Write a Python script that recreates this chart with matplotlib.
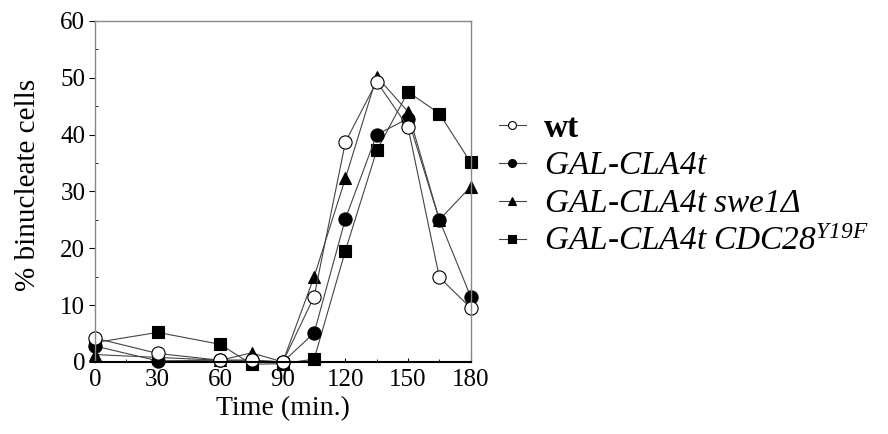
import matplotlib.pyplot as plt
from matplotlib.ticker import MultipleLocator

plt.rcParams['font.family'] = ['Liberation Serif', 'DejaVu Serif']
plt.rcParams['mathtext.fontset'] = 'custom'
plt.rcParams['mathtext.rm'] = 'Liberation Serif:italic'
plt.rcParams['mathtext.it'] = 'Liberation Serif:italic'
plt.rcParams['mathtext.bf'] = 'Liberation Serif:bold'

# Data
time = [0, 30, 60, 75, 90, 105, 120, 135, 150, 165, 180]
wt = [4.2, 1.5, 0.3, 0.3, 0.0, 11.5, 38.7, 49.3, 41.3, 14.9, 9.5]
cla4 = [2.8, 0.2, 0.3, 0.3, 0.0, 5.1, 25.2, 40.0, 42.8, 25.0, 11.5]
swe1 = [1.3, 0.8, 0.3, 1.6, 0.0, 15.0, 32.3, 50.2, 44.0, 25.0, 30.8]
cdc28 = [3.4, 5.2, 3.1, -0.4, -0.3, 0.5, 19.6, 37.2, 47.5, 43.7, 35.1]

labels = ['wt', '$\\mathrm{GAL}$-$\\mathrm{CLA4t}$', '$\\mathrm{GAL}$-$\\mathrm{CLA4t\\ swe1}\\mathit{\\Delta}$',
          '$\\mathrm{GAL}$-$\\mathrm{CLA4t\\ CDC28}^{\\mathrm{Y19F}}$']

fig = plt.figure(figsize=(8.88, 4.34), dpi=100)
ax = fig.add_axes([0.107, 0.166, 0.423, 0.786])

line_kw = dict(color='#444444', linewidth=0.8, clip_on=False,
               markeredgecolor='black', markeredgewidth=0.8)
ax.plot(time, cdc28, marker='s', markersize=9, markerfacecolor='black', label=labels[3], **line_kw)
ax.plot(time, swe1, marker='^', markersize=9, markerfacecolor='black', label=labels[2], **line_kw)
ax.plot(time, cla4, marker='o', markersize=9.5, markerfacecolor='black', label=labels[1], **line_kw)
ax.plot(time, wt, marker='o', markersize=9.5, markerfacecolor='white', label=labels[0], **line_kw)

ax.set_xlim(0, 180)
ax.set_ylim(0, 60)
ax.set_xticks([0, 30, 60, 90, 120, 150, 180])
ax.set_yticks([0, 10, 20, 30, 40, 50, 60])
ax.xaxis.set_minor_locator(MultipleLocator(15))
ax.yaxis.set_minor_locator(MultipleLocator(5))
ax.tick_params(axis='both', labelsize=18, colors='black')
ax.tick_params(axis='x', direction='in', length=3, width=0.8, pad=5)
ax.tick_params(axis='x', which='minor', direction='in', length=2, width=0.6)
ax.tick_params(axis='y', direction='out', length=4, width=0.8, pad=3)
ax.tick_params(axis='y', which='minor', direction='in', length=2, width=0.6)
for s in ['top', 'right', 'left']:
    ax.spines[s].set_color('#888888')
    ax.spines[s].set_linewidth(1.0)
ax.spines['bottom'].set_color('black')
ax.spines['bottom'].set_linewidth(1.5)

ax.set_xlabel('Time (min.)', fontsize=20, labelpad=4)
ax.set_ylabel('% binucleate cells', fontsize=21)
ax.yaxis.set_label_coords(-0.145, 0.52)

handles, labs = ax.get_legend_handles_labels()
leg = ax.legend(handles[::-1], labs[::-1], loc='upper left', bbox_to_anchor=(1.04, 0.77),
                frameon=False, fontsize=24, handlelength=0.8, handletextpad=0.55,
                labelspacing=0.22, markerscale=0.6, borderaxespad=0)
leg.get_texts()[0].set_fontweight('bold')

fig.savefig('out.png', dpi=100)
